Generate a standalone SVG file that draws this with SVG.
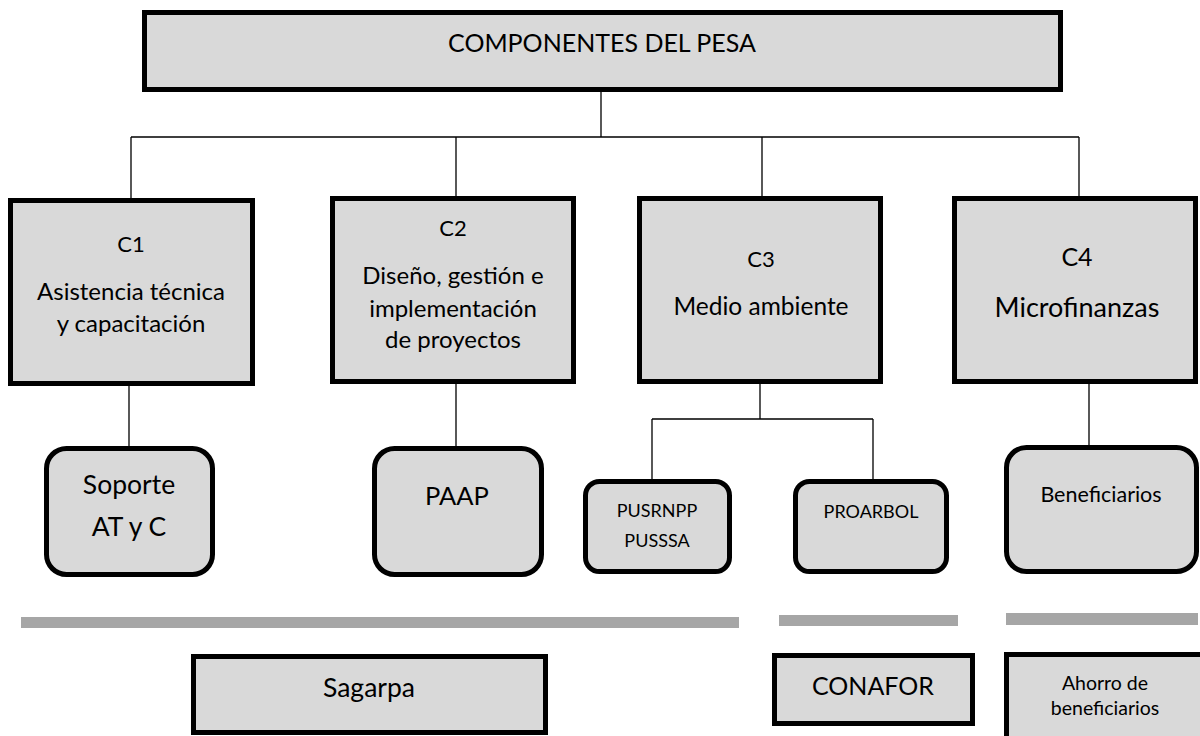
<svg xmlns="http://www.w3.org/2000/svg" width="1200" height="736" viewBox="0 0 1200 736">
<style>
.box{fill:#d9d9d9;stroke:#000;stroke-width:5}
.bar{fill:#a6a6a6}
.ln{fill:none;stroke:#000;stroke-width:1.3}
text{font-family:Lato,"Open Sans","Liberation Sans",sans-serif;fill:#000;text-anchor:middle}
</style>
<rect width="1200" height="736" fill="#fff"/>
<g id="connectors">
<path class="ln" d="M601,91 V137 M131,137 H1079 M131,137 V198 M456,137 V196 M762,137 V196 M1079,137 V196"/>
<path class="ln" d="M129,385 V446 M456,383 V446 M760,383 V419 M652,419 H873 M652,419 V479 M873,419 V479 M1089,383 V445"/>
</g>
<g id="top">
<rect class="box" x="144.5" y="12.5" width="916" height="77"/>
<text x="602" y="52" font-size="25">COMPONENTES DEL PESA</text>
</g>
<g id="c1">
<rect class="box" x="10.5" y="200.5" width="242" height="183"/>
<text x="131" y="252" font-size="22">C1</text>
<text x="131" y="300" font-size="24">Asistencia técnica</text>
<text x="131" y="332" font-size="24">y capacitación</text>
</g>
<g id="c2">
<rect class="box" x="332.5" y="198.5" width="241" height="183"/>
<text x="453" y="236" font-size="22">C2</text>
<text x="453" y="284" font-size="24">Diseño, gestión e</text>
<text x="453" y="317" font-size="24">implementación</text>
<text x="453" y="348" font-size="24">de proyectos</text>
</g>
<g id="c3">
<rect class="box" x="639.5" y="198.5" width="241" height="183"/>
<text x="761" y="267" font-size="22">C3</text>
<text x="761" y="315" font-size="24.5">Medio ambiente</text>
</g>
<g id="c4">
<rect class="box" x="954.5" y="198.5" width="241" height="183"/>
<text x="1077" y="266" font-size="25">C4</text>
<text x="1077" y="317" font-size="27">Microfinanzas</text>
</g>
<g id="soporte">
<rect class="box" x="46.5" y="448.5" width="166" height="126" rx="20"/>
<text x="129" y="494" font-size="26.5">Soporte</text>
<text x="129" y="536" font-size="26.5">AT y C</text>
</g>
<g id="paap">
<rect class="box" x="374.5" y="448.5" width="167" height="126" rx="20"/>
<text x="457" y="505" font-size="25.5">PAAP</text>
</g>
<g id="pusrnpp">
<rect class="box" x="585.5" y="481.5" width="144" height="90" rx="14"/>
<text x="657" y="517" font-size="18">PUSRNPP</text>
<text x="657" y="547" font-size="18">PUSSSA</text>
</g>
<g id="proarbol">
<rect class="box" x="795.5" y="481.5" width="151" height="90" rx="14"/>
<text x="871" y="518" font-size="18">PROARBOL</text>
</g>
<g id="beneficiarios">
<rect class="box" x="1006.5" y="447.5" width="190" height="124" rx="20"/>
<text x="1101" y="502" font-size="21.5">Beneficiarios</text>
</g>
<g id="bars">
<rect class="bar" x="21" y="617" width="718" height="11"/>
<rect class="bar" x="779" y="615" width="179" height="11"/>
<rect class="bar" x="1006" y="613" width="192" height="12"/>
</g>
<g id="sagarpa">
<rect class="box" x="193.5" y="656.5" width="352" height="76"/>
<text x="369" y="697" font-size="26.5">Sagarpa</text>
</g>
<g id="conafor">
<rect class="box" x="774.5" y="655.5" width="198" height="68"/>
<text x="873" y="695" font-size="25">CONAFOR</text>
</g>
<g id="ahorro">
<rect class="box" x="1006.5" y="654.5" width="220" height="86"/>
<text x="1105" y="690" font-size="19.5">Ahorro de</text>
<text x="1105" y="715" font-size="19.5">beneficiarios</text>
</g>
</svg>
